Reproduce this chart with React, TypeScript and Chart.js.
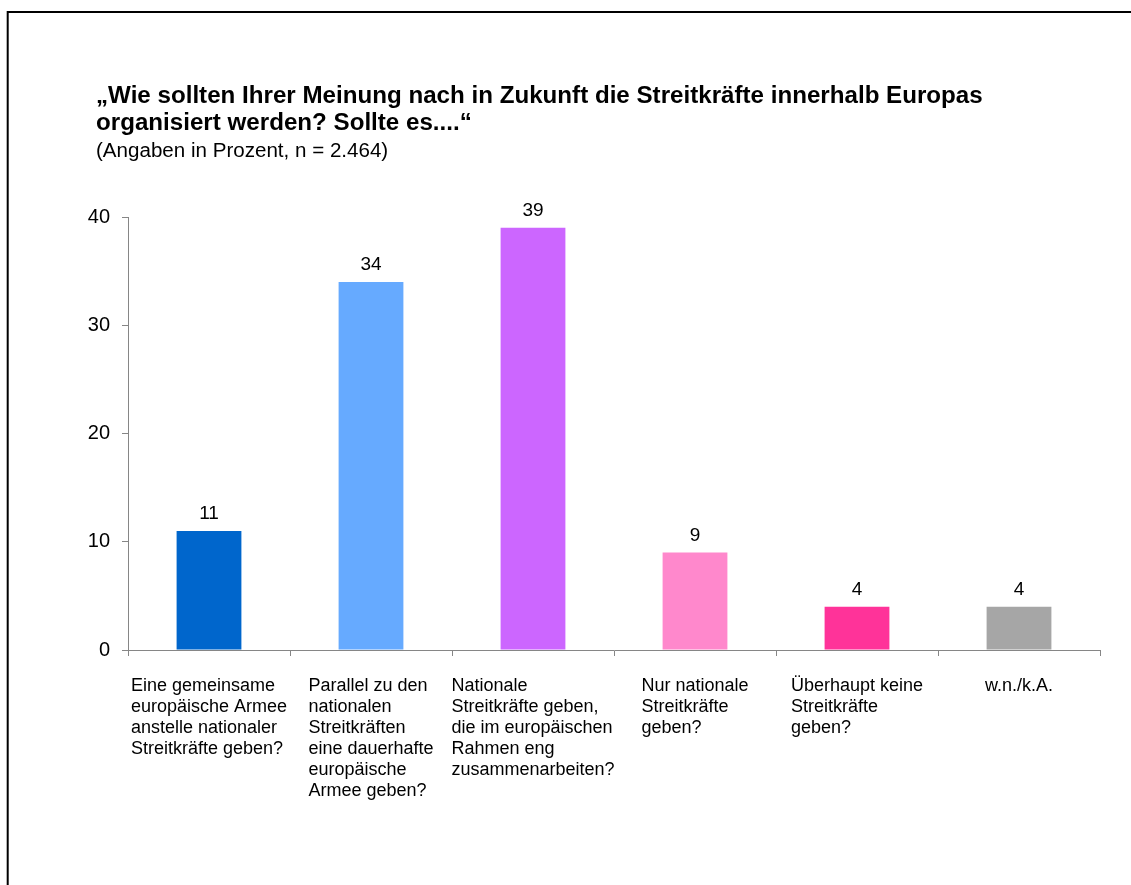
import React, { useEffect, useRef } from "react";
import { Chart, registerables } from "chart.js";
Chart.register(...registerables);

const FONT = "'Liberation Sans', Arial, sans-serif";

const categoryLines: string[][] = [
  ["Eine gemeinsame", "europäische Armee", "anstelle nationaler", "Streitkräfte geben?"],
  ["Parallel zu den", "nationalen", "Streitkräften", "eine dauerhafte", "europäische", "Armee geben?"],
  ["Nationale", "Streitkräfte geben,", "die im europäischen", "Rahmen eng", "zusammenarbeiten?"],
  ["Nur nationale", "Streitkräfte", "geben?"],
  ["Überhaupt keine", "Streitkräfte", "geben?"],
  ["w.n./k.A."],
];
const values = [11, 34, 39, 9, 4, 4];
const barColors = ["#0066CC", "#66AAFF", "#CC66FF", "#FF88CC", "#FF3399", "#A6A6A6"];
const yMin = 0;
const yMax = 40;
const yStep = 10;
const titleLines = [
  "\u201EWie sollten Ihrer Meinung nach in Zukunft die Streitkräfte innerhalb Europas",
  "organisiert werden? Sollte es....\u201C",
];
const subtitle = "(Angaben in Prozent, n = 2.464)";

function stretchText(ctx: CanvasRenderingContext2D, text: string, x: number, y: number, sx: number) {
  ctx.save();
  ctx.translate(x, y);
  ctx.scale(sx, 1);
  ctx.fillText(text, 0, 0);
  ctx.restore();
}

export default function App() {
  const ref = useRef<HTMLCanvasElement | null>(null);
  useEffect(() => {
    if (!ref.current) return;
    const decor = {
      id: "decor",
      beforeDraw(chart: any) {
        const ctx = chart.ctx;
        ctx.save();
        ctx.fillStyle = "#fff";
        ctx.fillRect(0, 0, chart.width, chart.height);
        ctx.strokeStyle = "#000";
        ctx.lineWidth = 2;
        ctx.strokeRect(7.7, 12, 1200, 1000);
        ctx.fillStyle = "#000";
        ctx.textAlign = "left";
        ctx.textBaseline = "alphabetic";
        ctx.font = `bold 23px ${FONT}`;
        stretchText(ctx, titleLines[0], 96, 103, 1.05);
        stretchText(ctx, titleLines[1], 96, 130, 1.05);
        ctx.font = `19.5px ${FONT}`;
        stretchText(ctx, subtitle, 96, 157, 1.055);
        ctx.restore();
      },
      afterDraw(chart: any) {
        const ctx = chart.ctx;
        ctx.save();
        ctx.fillStyle = "#000";
        const meta = chart.getDatasetMeta(0);
        ctx.font = `19px ${FONT}`;
        ctx.textAlign = "center";
        ctx.textBaseline = "alphabetic";
        meta.data.forEach((bar: any, i: number) => {
          ctx.fillText(String(values[i]), bar.x, bar.y - 12);
        });
        const xs = chart.scales.x;
        ctx.font = `18px ${FONT}`;
        ctx.textAlign = "left";
        categoryLines.forEach((lines, i) => {
          const cx = xs.getPixelForValue(i);
          const w = Math.max(...lines.map((l) => ctx.measureText(l).width));
          const left = cx - w / 2;
          lines.forEach((l, j) => {
            ctx.fillText(l, left, xs.top + 41 + j * 21);
          });
        });
        ctx.restore();
      },
    };
    const chart = new Chart(ref.current, {
      type: "bar",
      data: {
        labels: categoryLines.map((c) => c.join(" ")),
        datasets: [
          {
            data: values,
            backgroundColor: barColors,
            barPercentage: 0.4,
            categoryPercentage: 1,
          },
        ],
      },
      options: {
        responsive: false,
        animation: false,
        layout: { padding: { left: 0, right: 31, top: 217, bottom: 0 } },
        plugins: { legend: { display: false }, tooltip: { enabled: false }, title: { display: false } },
        scales: {
          x: {
            offset: true,
            grid: { offset: true, drawOnChartArea: false, color: "#868686", tickLength: 6 },
            border: { color: "#868686" },
            ticks: { display: false },
            afterFit: (s: any) => {
              s.height = 235;
            },
          },
          y: {
            min: yMin,
            max: yMax,
            grid: { drawOnChartArea: false, color: "#868686", tickLength: 6 },
            border: { color: "#868686" },
            ticks: { stepSize: yStep, color: "#000", padding: 12, font: { size: 20, family: FONT } },
            afterFit: (s: any) => {
              s.width = 128;
            },
          },
        },
      },
      plugins: [decor],
    });
    return () => chart.destroy();
  }, []);
  return (
    <canvas
      ref={ref}
      width={1131}
      height={885}
      style={{ position: "fixed", left: 0, top: 0, display: "block" }}
    />
  );
}
